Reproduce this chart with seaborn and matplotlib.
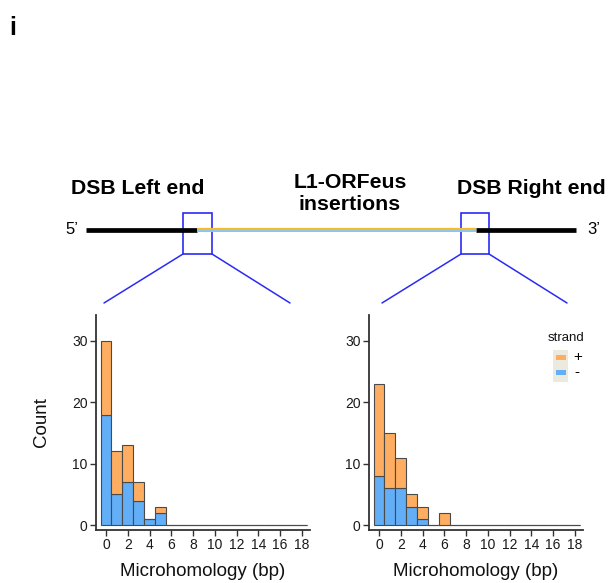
import numpy as np
import pandas as pd
import matplotlib
matplotlib.use("Agg")
import matplotlib.pyplot as plt
from matplotlib.patches import Rectangle
from matplotlib.lines import Line2D
import seaborn as sns

# ---- data ----
mh_bins = [0, 1, 2, 3, 4, 5, 6]
left_plus = [12, 7, 6, 3, 0, 1, 0]
left_minus = [18, 5, 7, 4, 1, 2, 0]
right_plus = [15, 9, 5, 2, 2, 0, 2]
right_minus = [8, 6, 6, 3, 1, 0, 0]
strand_levels = ["+", "-"]
x_ticks = list(range(0, 19, 2))
y_ticks = [0, 10, 20, 30]

ORANGE = "#FEAD61"
BLUE = "#62AEF7"


def long_form(plus, minus):
    vals = np.concatenate([np.repeat(mh_bins, plus), np.repeat(mh_bins, minus)])
    strands = ["+"] * int(sum(plus)) + ["-"] * int(sum(minus))
    return pd.DataFrame({"mh": vals, "strand": strands})


df_left = long_form(left_plus, left_minus)
df_right = long_form(right_plus, right_minus)

sns.set_theme(style="white")
plt.rcParams["font.family"] = ["Liberation Sans", "DejaVu Sans"]
plt.rcParams["text.color"] = "black"

W, H = 611, 583
fig = plt.figure(figsize=(W / 100, H / 100), dpi=100)


def fx(px):
    return px / W


def fy(py):
    return 1 - py / H


def make_ax(x0, x1, y_top, y_bot):
    return fig.add_axes([fx(x0), fy(y_bot), fx(x1) - fx(x0), fy(y_top) - fy(y_bot)])


axL = make_ax(96, 310, 315, 530)
axR = make_ax(369, 583, 315, 530)

for ax, df in [(axL, df_left), (axR, df_right)]:
    sns.histplot(data=df, x="mh", hue="strand", hue_order=strand_levels,
                 multiple="stack", discrete=True, binrange=(0, 18),
                 palette={"+": ORANGE, "-": BLUE}, alpha=1,
                 edgecolor="#4a4a4a", linewidth=0.8, legend=False, ax=ax)
    ax.set_xlim(-0.92, 18.75)
    ax.set_ylim(-0.8, 34.2)
    ax.set_xticks(x_ticks)
    ax.set_yticks(y_ticks)
    for s in ["top", "right"]:
        ax.spines[s].set_visible(False)
    for s in ["left", "bottom"]:
        ax.spines[s].set_color("#333333")
        ax.spines[s].set_linewidth(1.3)
    ax.tick_params(axis="both", which="both", direction="out", length=4,
                   width=1, color="#333333", labelsize=10, labelcolor="#1a1a1a",
                   left=True, bottom=True, pad=2)
    ax.set_xlabel("Microhomology (bp)", fontsize=13.5, labelpad=8, color="#111111")
    ax.set_ylabel("")

axL.set_ylabel("Count", fontsize=13.5, labelpad=16, color="#111111")

# ---- panel letter ----
fig.text(fx(9), fy(28), "i", fontsize=18, fontweight="bold", va="center", ha="left")

# ---- schematic ----
tr = fig.transFigure


def line(xs, ys, **kw):
    fig.add_artist(Line2D([fx(x) for x in xs], [fy(y) for y in ys], transform=tr, **kw))


line([86, 197], [230, 230], color="black", lw=3.4, solid_capstyle="butt")
line([476, 576], [230, 230], color="black", lw=3.4, solid_capstyle="butt")
line([197, 476], [228.5, 228.5], color="#F5BC2A", lw=1.6, solid_capstyle="butt")
line([197, 476], [231, 231], color="#8CC3EE", lw=1.4, solid_capstyle="butt")

BOXC = "#2B2BF5"
for bx0, bx1 in [(183, 212), (461, 489)]:
    fig.add_artist(Rectangle((fx(bx0), fy(254)), fx(bx1) - fx(bx0), fy(213) - fy(254),
                             transform=tr, fill=False, edgecolor=BOXC, lw=1.2))
line([183, 104], [254, 303], color=BOXC, lw=1.1)
line([212, 290], [254, 303], color=BOXC, lw=1.1)
line([461, 382], [254, 303], color=BOXC, lw=1.1)
line([489, 567], [254, 303], color=BOXC, lw=1.1)

fig.text(fx(138), fy(188), "DSB Left end", fontsize=15.3, fontweight="bold",
         ha="center", va="center", color="black")
fig.text(fx(531), fy(188), "DSB Right end", fontsize=15.3, fontweight="bold",
         ha="center", va="center", color="black")
fig.text(fx(350), fy(194), "L1-ORFeus\ninsertions", fontsize=15.3, fontweight="bold",
         ha="center", va="center", linespacing=1.2, color="black")
fig.text(fx(72), fy(230), "5\u2019", fontsize=12, ha="center", va="center")
fig.text(fx(594), fy(230), "3\u2019", fontsize=12, ha="center", va="center")

# ---- legend (drawn manually, ggplot style) ----
fig.text(fx(566), fy(338), "strand", fontsize=9.5, ha="center", va="center", color="#111111")
fig.add_artist(Rectangle((fx(553), fy(382)), fx(568) - fx(553), fy(350) - fy(382),
                         transform=tr, facecolor="#ECE9DF", edgecolor="none"))
fig.add_artist(Rectangle((fx(556), fy(360)), fx(566) - fx(556), fy(355) - fy(360),
                         transform=tr, facecolor=ORANGE, edgecolor="none"))
fig.add_artist(Rectangle((fx(556), fy(375)), fx(566) - fx(556), fy(370) - fy(375),
                         transform=tr, facecolor=BLUE, edgecolor="none"))
fig.text(fx(573), fy(357), strand_levels[0], fontsize=11, ha="left", va="center")
fig.text(fx(574), fy(372), strand_levels[1], fontsize=11, ha="left", va="center")

fig.savefig("out.png", dpi=100)
